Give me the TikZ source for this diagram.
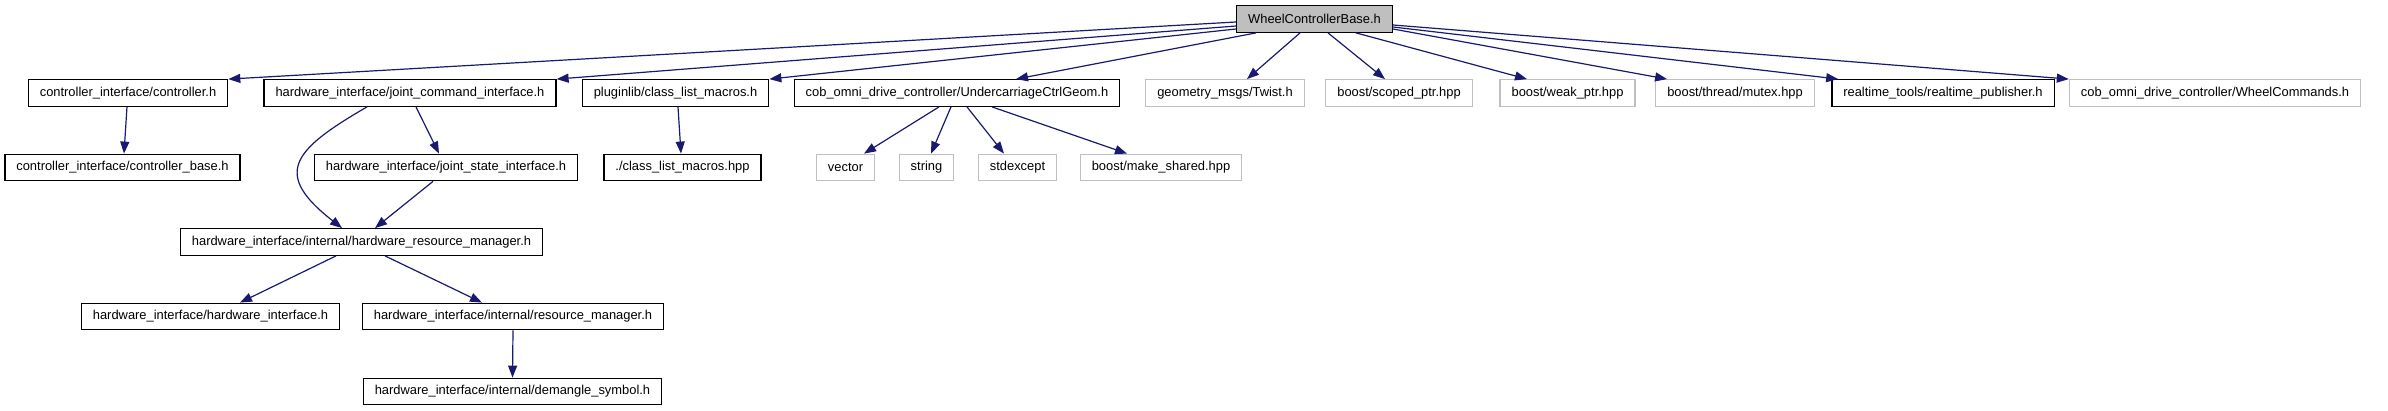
\documentclass[tikz,border=0pt]{standalone}
\usepackage{fontspec}
\setmainfont{Liberation Sans}
\usetikzlibrary{arrows.meta}
\definecolor{edgeblue}{RGB}{25,25,112}
\definecolor{extgray}{RGB}{191,191,191}

\begin{document}
\begin{tikzpicture}[x=1pt,y=-1pt,->,>={Triangle[length=12pt,width=9pt]},draw=edgeblue,line width=1.2pt]
        \tikzstyle{file}=[draw=black,text=black,fill=white,line width=1.3pt,inner xsep=11.5pt,inner ysep=0pt,minimum height=26.5pt,font=\fontsize{12.9}{14}\selectfont]
        \tikzstyle{extfile}=[file,draw=extgray]
        \tikzstyle{root}=[file,fill=extgray]
        \useasboundingbox (0,0) rectangle (2388,411);

        % top level
        \node[root]    (wcb)      at (1314.5,19)  {WheelControllerBase.h};
        % direct includes
        \node[file]    (ctrl)     at (128,93)     {controller\_interface/controller.h};
        \node[file]    (jci)      at (410,93)     {hardware\_interface/joint\_command\_interface.h};
        \node[file]    (clm)      at (675.5,93)   {pluginlib/class\_list\_macros.h};
        \node[file]    (ucg)      at (957,93)     {cob\_omni\_drive\_controller/UndercarriageCtrlGeom.h};
        \node[extfile] (twist)    at (1225,93)    {geometry\_msgs/Twist.h};
        \node[extfile] (scoped)   at (1399,93)    {boost/scoped\_ptr.hpp};
        \node[extfile] (weak)     at (1567.5,93)  {boost/weak\_ptr.hpp};
        \node[extfile] (mutex)    at (1735,93)    {boost/thread/mutex.hpp};
        \node[file]    (rtp)      at (1943,93)    {realtime\_tools/realtime\_publisher.h};
        \node[extfile] (wcmd)     at (2215,93)    {cob\_omni\_drive\_controller/WheelCommands.h};
        % second level
        \node[file]    (cbase)    at (122.5,167.5) {controller\_interface/controller\_base.h};
        \node[file]    (jsi)      at (446,167.5)   {hardware\_interface/joint\_state\_interface.h};
        \node[file]    (clmhpp)   at (682.5,167.5) {./class\_list\_macros.hpp};
        \node[extfile] (vector)   at (845.5,167.5) {vector};
        \node[extfile] (string)   at (926.5,167.5) {string};
        \node[extfile] (stdexc)   at (1017.5,167.5) {stdexcept};
        \node[extfile] (mkshared) at (1161,167.5)  {boost/make\_shared.hpp};
        % hardware interface internals
        \node[file]    (hrm)      at (361.5,242)   {hardware\_interface/internal/hardware\_resource\_manager.h};
        \node[file]    (hwi)      at (210.5,316.5) {hardware\_interface/hardware\_interface.h};
        \node[file]    (rm)       at (513,316.5)   {hardware\_interface/internal/resource\_manager.h};
        \node[file]    (dmg)      at (512.5,391.5) {hardware\_interface/internal/demangle\_symbol.h};

        \path ([yshift=-3pt]wcb.west)        edge (ctrl.north east)
              ([yshift=-7pt]wcb.west)        edge (jci.north east)
              ([yshift=-10pt]wcb.west)       edge (clm.north east)
              ([xshift=20pt]wcb.south west)  edge ([xshift=59pt]ucg.north)
              ([xshift=-14.5pt]wcb.south)    edge ([xshift=22pt]twist.north)
              ([xshift=13.5pt]wcb.south)     edge ([xshift=-14pt]scoped.north)
              ([xshift=41.5pt]wcb.south)     edge ([xshift=-40.5pt]weak.north)
              ([yshift=-10pt]wcb.east)       edge ([xshift=12pt]mutex.north west)
              ([yshift=-8pt]wcb.east)        edge ([xshift=7pt]rtp.north west)
              ([yshift=-6pt]wcb.east)        edge (wcmd.north west)

              ([xshift=-1pt]ctrl.south)      edge ([xshift=1.5pt]cbase.north)
              ([xshift=6pt]jci.south)        edge ([xshift=-7pt]jsi.north)
              ([xshift=2.5pt]clm.south)      edge ([xshift=-1.5pt]clmhpp.north)
              ([xshift=-18pt]ucg.south)      edge ([xshift=18.5pt]vector.north)
              ([xshift=-6pt]ucg.south)       edge ([xshift=4.5pt]string.north)
              ([xshift=10pt]ucg.south)       edge ([xshift=-13.5pt]stdexc.north)
              ([xshift=35pt]ucg.south)       edge ([xshift=-34pt]mkshared.north)

              ([xshift=-13pt]jsi.south)      edge ([xshift=13.5pt]hrm.north)
              ([xshift=-25.5pt]hrm.south)    edge ([xshift=29.5pt]hwi.north)
              ([xshift=23.5pt]hrm.south)     edge ([xshift=-31pt]rm.north)
              (rm.south)                     edge (dmg.north);

        \draw ([xshift=-43pt]jci.south) .. controls +(-76,44) and +(-69,-54) .. ([xshift=-19.5pt]hrm.north);
\end{tikzpicture}
\end{document}
